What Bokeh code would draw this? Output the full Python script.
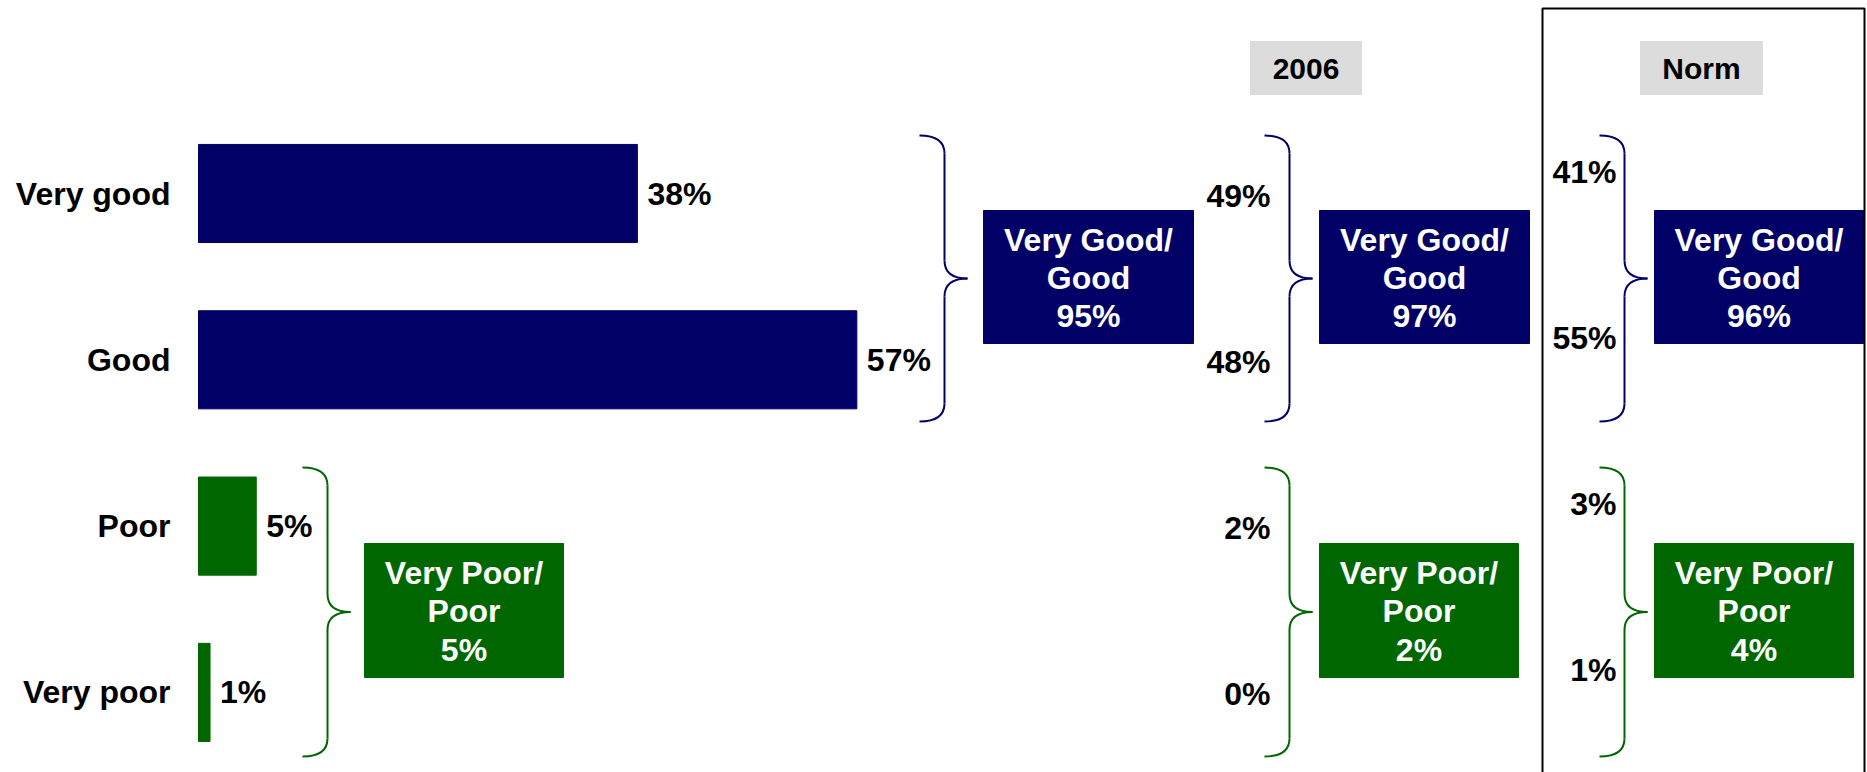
from bokeh.plotting import figure
from bokeh.models import Range1d, ColumnDataSource
from bokeh.core.properties import value
from bokeh.embed import file_html
from bokeh.resources import INLINE

# ---------------- data ----------------
categories = ["Very good", "Good", "Poor", "Very poor"]
current_values = [38, 57, 5, 1]
values_2006 = [49, 48, 2, 0]
values_norm = [41, 55, 3, 1]
net_labels = ["Very Good/\nGood", "Very Poor/\nPoor"]
net_current = [95, 5]
net_2006 = [97, 2]
net_norm = [96, 4]
column_headers = ["2006", "Norm"]

# ---------------- style ----------------
NAVY = "#000066"
GREEN = "#006600"
GREY = "#dcdcdc"
FONT = value("Liberation Sans")
FS = "32px"
bar_colors = [NAVY, NAVY, GREEN, GREEN]
net_colors = [NAVY, GREEN]

W, H = 1867, 772
PX_PER_PCT = 11.55
PX_PER_ROW = 166.3
x_start = -198 / PX_PER_PCT
y_top = 3 + 193 / PX_PER_ROW

p = figure(width=W, height=H, output_backend="svg", toolbar_location=None,
           x_axis_type=None, y_axis_type=None,
           x_range=Range1d(x_start, x_start + W / PX_PER_PCT),
           y_range=Range1d(y_top - H / PX_PER_ROW, y_top),
           min_border=0)
p.extra_x_ranges = {"px": Range1d(0, W)}
p.extra_y_ranges = {"px": Range1d(H, 0)}
p.grid.visible = False
p.outline_line_color = None
p.background_fill_color = "white"
p.border_fill_color = "white"

rows = list(range(len(categories)))[::-1]

# bars
src = ColumnDataSource(dict(y=rows, v=current_values, c=bar_colors,
                            lab=[f"{v}%" for v in current_values], cat=categories))
p.hbar(y="y", left=0, right="v", height=0.59, color="c", source=src)
p.text(x="v", y="y", text="lab", source=src, x_offset=10, text_align="left",
       text_baseline="middle", text_font=FONT, text_font_style="bold",
       text_font_size=FS, text_color="black")
# category labels
p.text(x=[170] * len(categories), y=rows, text=categories, x_range_name="px",
       text_align="right", text_baseline="middle", text_font=FONT,
       text_font_style="bold", text_font_size=FS, text_color="black")

# comparison columns value labels
p.text(x=[1270] * 4, y=rows, text=[f"{v}%" for v in values_2006], x_range_name="px",
       y_offset=2, text_align="right", text_baseline="middle", text_font=FONT,
       text_font_style="bold", text_font_size=FS, text_color="black")
p.text(x=[1616] * 4, y=rows, text=[f"{v}%" for v in values_norm], x_range_name="px",
       y_offset=-22, text_align="right", text_baseline="middle", text_font=FONT,
       text_font_style="bold", text_font_size=FS, text_color="black")


# braces
def brace(x0, y0, y1, color, tip=48, hook=25, r=18):
    xv = x0 + hook
    xt = x0 + tip
    ym = (y0 + y1) / 2
    q = dict(x0=[x0, xv, xt, xv], y0=[y0, ym - r, ym, y1 - r],
             x1=[xv, xt, xv, x0], y1=[y0 + r, ym, ym + r, y1],
             cx=[xv, xv, xv, xv], cy=[y0, ym, ym, y1])
    p.quadratic(source=ColumnDataSource(q), x0="x0", y0="y0", x1="x1", y1="y1",
                cx="cx", cy="cy", line_color=color, line_width=2,
                x_range_name="px", y_range_name="px")
    p.segment(x0=[xv, xv], y0=[y0 + r, ym + r], x1=[xv, xv], y1=[ym - r, y1 - r],
              line_color=color, line_width=2, x_range_name="px", y_range_name="px")


for bx in [919, 1264, 1599]:
    brace(bx, 135, 421, NAVY)
for bx in [302, 1264, 1599]:
    brace(bx, 467, 756, GREEN)

# net boxes
box_left = [[983, 364], [1319, 1319], [1654, 1654]]
box_right = [[1193, 563], [1529, 1518], [1863, 1853]]
box_top = [210, 543]
box_bot = [343, 677]
nets = [net_current, net_2006, net_norm]
for col in range(3):
    for k in range(2):
        l, r = box_left[col][k], box_right[col][k]
        p.quad(left=[l], right=[r], top=[box_top[k]], bottom=[box_bot[k]],
               color=net_colors[k], x_range_name="px", y_range_name="px")
        p.text(x=[(l + r) / 2], y=[(box_top[k] + box_bot[k]) / 2 + 1],
               text=[f"{net_labels[k]}\n{nets[col][k]}%"],
               x_range_name="px", y_range_name="px", text_align="center",
               text_baseline="middle", text_line_height=1.06, text_font=FONT,
               text_font_style="bold", text_font_size=FS, text_color="white")

# column headers
hdr_l = [1250, 1640]
hdr_r = [1361, 1762]
p.quad(left=hdr_l, right=hdr_r, top=[41, 41], bottom=[94, 94], color=GREY,
       x_range_name="px", y_range_name="px")
p.text(x=[(a + b) / 2 for a, b in zip(hdr_l, hdr_r)], y=[68, 68], text=column_headers,
       x_range_name="px", y_range_name="px", text_align="center",
       text_baseline="middle", text_font=FONT, text_font_style="bold",
       text_font_size="30px", text_color="black")

# Norm frame
p.multi_line(xs=[[1542, 1542, 1864, 1864]], ys=[[800, 8, 8, 800]], line_color="black",
             line_width=2, x_range_name="px", y_range_name="px")

open("out.html", "w").write(file_html(p, INLINE))
